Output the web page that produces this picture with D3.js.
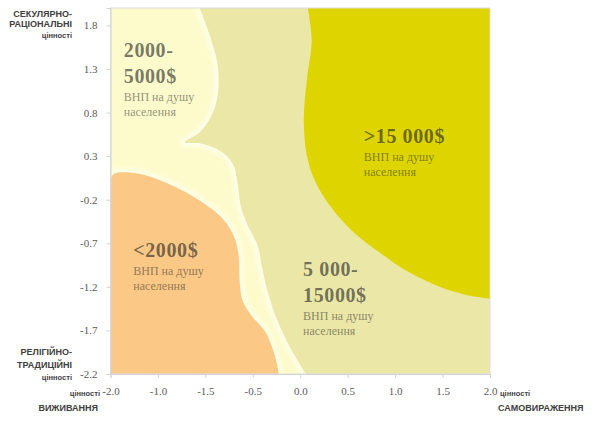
<!DOCTYPE html>
<html><head><meta charset="utf-8">
<script src="https://cdn.jsdelivr.net/npm/d3@7"></script>
<style>body{margin:0;background:#fff}svg{display:block}</style>
</head><body>
<svg id="c" width="600" height="423"></svg>
<script>
// ---- data ----
const xTicks = [-2, -1.5, -1, -0.5, 0, 0.5, 1, 1.5, 2];
const xTickLabels = ["-2.0", "-1.0", "-1.5", "-0.5", "0.0", "0.5", "1.0", "1.5", "2.0"];
const yTicks = [1.8, 1.3, 0.8, 0.3, -0.2, -0.7, -1.2, -1.7, -2.2];
const xDomain = [-2, 2];
const yDomain = [-2.2, 2.0];

// boundary of the 5 000-15 000$ zone (top -> bottom)
const midBoundary = [
  [-1.06, 2.0], [-0.955, 1.69], [-0.87, 1.344], [-0.87, 1.0], [-0.934, 0.769],
  [-1.06, 0.573], [-1.219, 0.458], [-1.06, 0.447], [-0.85, 0.366], [-0.712, 0.216],
  [-0.66, -0.014], [-0.628, -0.267], [-0.554, -0.497], [-0.449, -0.727], [-0.406, -0.957],
  [-0.354, -1.211], [-0.269, -1.51], [-0.143, -1.82], [-0.005, -2.085], [0.058, -2.2]
];
// boundary of the >15 000$ zone (top -> right edge)
const highBoundary = [
  [0.079, 2.0], [0.121, 1.632], [0.069, 1.171], [0.037, 0.711], [0.069, 0.308],
  [0.153, 0.021], [0.311, -0.267], [0.544, -0.555], [0.839, -0.808], [1.156, -1.038],
  [1.525, -1.222], [1.789, -1.303], [2.0, -1.337]
];
// boundary of the <2000$ zone (left edge -> bottom)
const lowBoundary = [
  [-2.0, 0.044], [-1.958, 0.101], [-1.8, 0.113], [-1.588, 0.067], [-1.325, -0.048],
  [-1.061, -0.209], [-0.829, -0.405], [-0.702, -0.612], [-0.649, -0.842], [-0.639, -1.13],
  [-0.607, -1.36], [-0.512, -1.533], [-0.375, -1.705], [-0.29, -1.913], [-0.248, -2.074],
  [-0.227, -2.2]
];

const zoneLabels = [
  {big: ["2000-", "5000$"], small: ["ВНП на душу", "населення"], pos: [-1.86, 1.44]},
  {big: ["<2000$"], small: ["ВНП на душу", "населення"], pos: [-1.76, -0.86]},
  {big: ["5 000-", "15000$"], small: ["ВНП на душу", "населення"], pos: [0.03, -1.07]},
  {big: [">15 000$"], small: ["ВНП на душу", "населення"], pos: [0.67, 0.45]}
];

// ---- layout ----
const svg = d3.select("#c");
const L = 110.5, R = 490, T = 8, B = 374;
const x = d3.scaleLinear().domain(xDomain).range([L, R]);
const y = d3.scaleLinear().domain(yDomain).range([B, T]);

const defs = svg.append("defs");
defs.append("filter").attr("id", "glow").attr("x", "-20%").attr("y", "-20%").attr("width", "140%").attr("height", "140%")
  .append("feGaussianBlur").attr("stdDeviation", 2);
defs.append("filter").attr("id", "soft").attr("x", "-5%").attr("y", "-5%").attr("width", "110%").attr("height", "110%")
  .append("feGaussianBlur").attr("stdDeviation", 0.7);
defs.append("clipPath").attr("id", "plotclip").append("rect")
  .attr("x", L).attr("y", T).attr("width", R - L).attr("height", B - T);

const curve = d3.line().x(d => x(d[0])).y(d => y(d[1])).curve(d3.curveCatmullRom.alpha(0.5));
const P = (a, b) => "L" + x(a) + "," + y(b);

const g = svg.append("g").attr("clip-path", "url(#plotclip)");
g.append("rect").attr("x", L).attr("y", T).attr("width", R - L).attr("height", B - T).attr("fill", "#fdfbcc");

// mid zone
const midPath = curve(midBoundary) + P(2, -2.2) + P(2, 2) + "Z";
g.append("path").attr("d", curve(midBoundary)).attr("fill", "none").attr("stroke", "#fffee8")
  .attr("stroke-width", 8).attr("filter", "url(#glow)");
g.append("path").attr("d", midPath).attr("fill", "#eae7a7").attr("filter", "url(#soft)");

// high zone
const highPath = curve(highBoundary) + P(2, 2) + "Z";
g.append("path").attr("d", highPath).attr("fill", "#ded500").attr("filter", "url(#soft)");

// low zone
const lowPath = curve(lowBoundary) + P(-2, -2.2) + "Z";
g.append("path").attr("d", curve(lowBoundary)).attr("fill", "none").attr("stroke", "#fffee6")
  .attr("stroke-width", 8).attr("filter", "url(#glow)");
g.append("path").attr("d", lowPath).attr("fill", "#fbc886").attr("filter", "url(#soft)");

// plot border
svg.append("rect").attr("x", L).attr("y", T).attr("width", R - L).attr("height", B - T)
  .attr("fill", "none").attr("stroke", "#dcdce4").attr("stroke-width", 1);

// zone labels
zoneLabels.forEach(z => {
  const t = svg.append("text").attr("x", x(z.pos[0])).attr("y", y(z.pos[1]))
    .attr("font-family", "Liberation Serif, serif").attr("fill", "#222");
  z.big.forEach((s, i) => {
    t.append("tspan").attr("x", x(z.pos[0])).attr("dy", i === 0 ? 0 : 26)
      .attr("font-size", 20).attr("font-weight", "bold").attr("letter-spacing", 0.6)
      .attr("fill-opacity", 0.62).text(s);
  });
  z.small.forEach((s, i) => {
    t.append("tspan").attr("x", x(z.pos[0])).attr("dy", i === 0 ? 18 : 15)
      .attr("font-size", 12).attr("fill-opacity", 0.5).text(s);
  });
});

// axes
const yAxis = svg.append("g").attr("transform", `translate(${L},0)`)
  .call(d3.axisLeft(y).tickValues(yTicks).tickFormat(d => d.toFixed(1)).tickSize(4).tickPadding(9));
const xAxis = svg.append("g").attr("transform", `translate(0,${B})`)
  .call(d3.axisBottom(x).tickValues(xTicks).tickFormat((d, i) => xTickLabels[i]).tickSize(4).tickPadding(9));
[xAxis, yAxis].forEach(a => {
  a.select(".domain").attr("stroke", "#d4d4d4");
  a.selectAll(".tick line").attr("stroke", "#d4d4d4");
  a.selectAll(".tick text").attr("fill", "#5a5a5a").attr("font-size", 11)
    .attr("font-family", "Liberation Serif, serif");
});

// axis captions
function caption(lines, xx, anchor) {
  lines.forEach(l => {
    svg.append("text").attr("x", xx).attr("y", l[1]).attr("text-anchor", anchor)
      .attr("font-family", "Liberation Sans, Arial, sans-serif").attr("font-weight", "bold")
      .attr("font-size", l[2]).attr("fill", "#404040").text(l[0]);
  });
}
caption([["СЕКУЛЯРНО-", 17, 9], ["РАЦІОНАЛЬНІ", 27, 9], ["цінності", 38, 7.5]], 72, "end");
caption([["РЕЛІГІЙНО-", 355, 9], ["ТРАДИЦІЙНІ", 368, 9], ["цінності", 380, 7.5]], 72, "end");
caption([["цінності", 396, 7.5]], 100, "end");
caption([["ВИЖИВАННЯ", 411, 9]], 98, "end");
caption([["цінності", 396, 7.5]], 500, "start");
caption([["САМОВИРАЖЕННЯ", 411, 9]], 498, "start");
</script>
</body></html>
